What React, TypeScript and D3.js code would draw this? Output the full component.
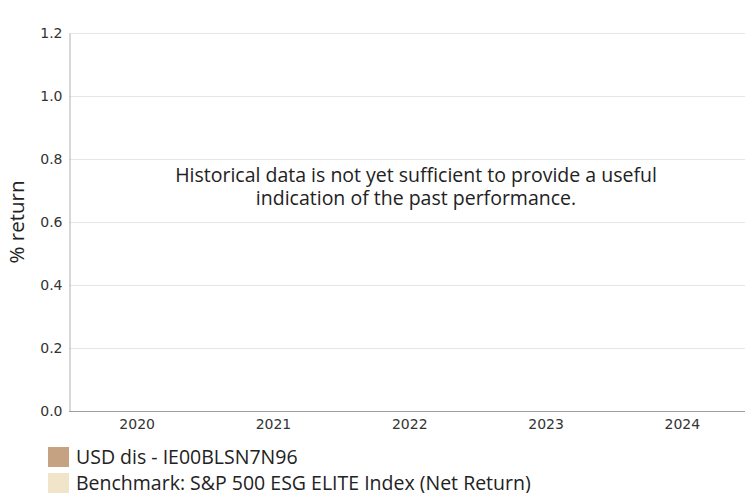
import React, { useEffect, useRef } from 'react';
import * as d3 from 'd3';

const years = ['2020', '2021', '2022', '2023', '2024'];
const yTicks = [0, 0.2, 0.4, 0.6, 0.8, 1.0, 1.2];
const legendItems = [
  { label: 'USD dis - IE00BLSN7N96', color: '#c4a282' },
  { label: 'Benchmark: S&P 500 ESG ELITE Index (Net Return)', color: '#f0e4c9' },
];
const message = [
  'Historical data is not yet sufficient to provide a useful',
  'indication of the past performance.',
];

const W = 745;
const H = 493;

const App: React.FC = () => {
  const ref = useRef<SVGSVGElement>(null);
  const margin = { top: 33, right: 0, bottom: 82, left: 69 };

  useEffect(() => {
    document.body.style.margin = '0';
    if (!ref.current) return;
    const root = d3.select(ref.current);
    root.selectAll('*').remove();

    const x = d3
      .scaleBand<string>()
      .domain(years)
      .range([margin.left, margin.left + 5 * 136.3]);
    const y = d3
      .scaleLinear()
      .domain([0, 1.2])
      .range([H - margin.bottom, margin.top]);

    // gridlines
    root
      .append('g')
      .selectAll('line')
      .data(yTicks.slice(1))
      .enter()
      .append('line')
      .attr('x1', margin.left)
      .attr('x2', W)
      .attr('y1', (d) => y(d) + 0.5)
      .attr('y2', (d) => y(d) + 0.5)
      .attr('stroke', '#e6e6e6')
      .attr('stroke-width', 1);

    // y axis
    const yAxis = root
      .append('g')
      .attr('transform', `translate(${margin.left + 0.5},0)`)
      .call(
        d3
          .axisLeft(y)
          .tickValues(yTicks)
          .tickSize(0)
          .tickPadding(7)
          .tickFormat(d3.format('.1f'))
      );
    yAxis.select('.domain').attr('stroke', '#b0b0b0');
    yAxis
      .selectAll('text')
      .attr('fill', '#333')
      .style('font-family', '"DejaVu Sans", Verdana, sans-serif')
      .style('font-size', '14px');

    // x axis
    const xAxis = root
      .append('g')
      .attr('transform', `translate(0,${y(0) + 0.5})`)
      .call(d3.axisBottom(x).tickSize(0).tickPadding(8));
    xAxis
      .select('.domain')
      .attr('stroke', '#a0a0a0')
      .attr('d', `M${margin.left},0H${W}`);
    xAxis
      .selectAll('text')
      .attr('fill', '#333')
      .style('font-family', '"DejaVu Sans", Verdana, sans-serif')
      .style('font-size', '14px');

    // y label
    root
      .append('text')
      .attr('transform', `translate(24,${(y(0) + y(1.2)) / 2}) rotate(-90)`)
      .attr('text-anchor', 'middle')
      .attr('fill', '#222')
      .style('font-family', '"Open Sans", sans-serif')
      .style('font-size', '20.5px')
      .text('% return');

    // message
    root
      .append('text')
      .attr('text-anchor', 'middle')
      .attr('fill', '#222')
      .style('font-family', '"Open Sans", sans-serif')
      .style('font-size', '19.5px')
      .selectAll('tspan')
      .data(message)
      .enter()
      .append('tspan')
      .attr('x', 416)
      .attr('y', (_, i) => 182 + i * 23)
      .text((d) => d);

    // legend
    const leg = root
      .append('g')
      .selectAll('g')
      .data(legendItems)
      .enter()
      .append('g')
      .attr('transform', (_, i) => `translate(48,${447 + i * 26})`);
    leg
      .append('rect')
      .attr('width', 21)
      .attr('height', 20)
      .attr('fill', (d) => d.color);
    leg
      .append('text')
      .attr('x', 28)
      .attr('y', 17)
      .attr('fill', '#222')
      .style('font-family', '"Open Sans", sans-serif')
      .style('font-size', '19.5px')
      .text((d) => d.label);
  }, []);

  return <svg ref={ref} width={W} height={H} style={{ display: 'block' }} />;
};

export default App;
